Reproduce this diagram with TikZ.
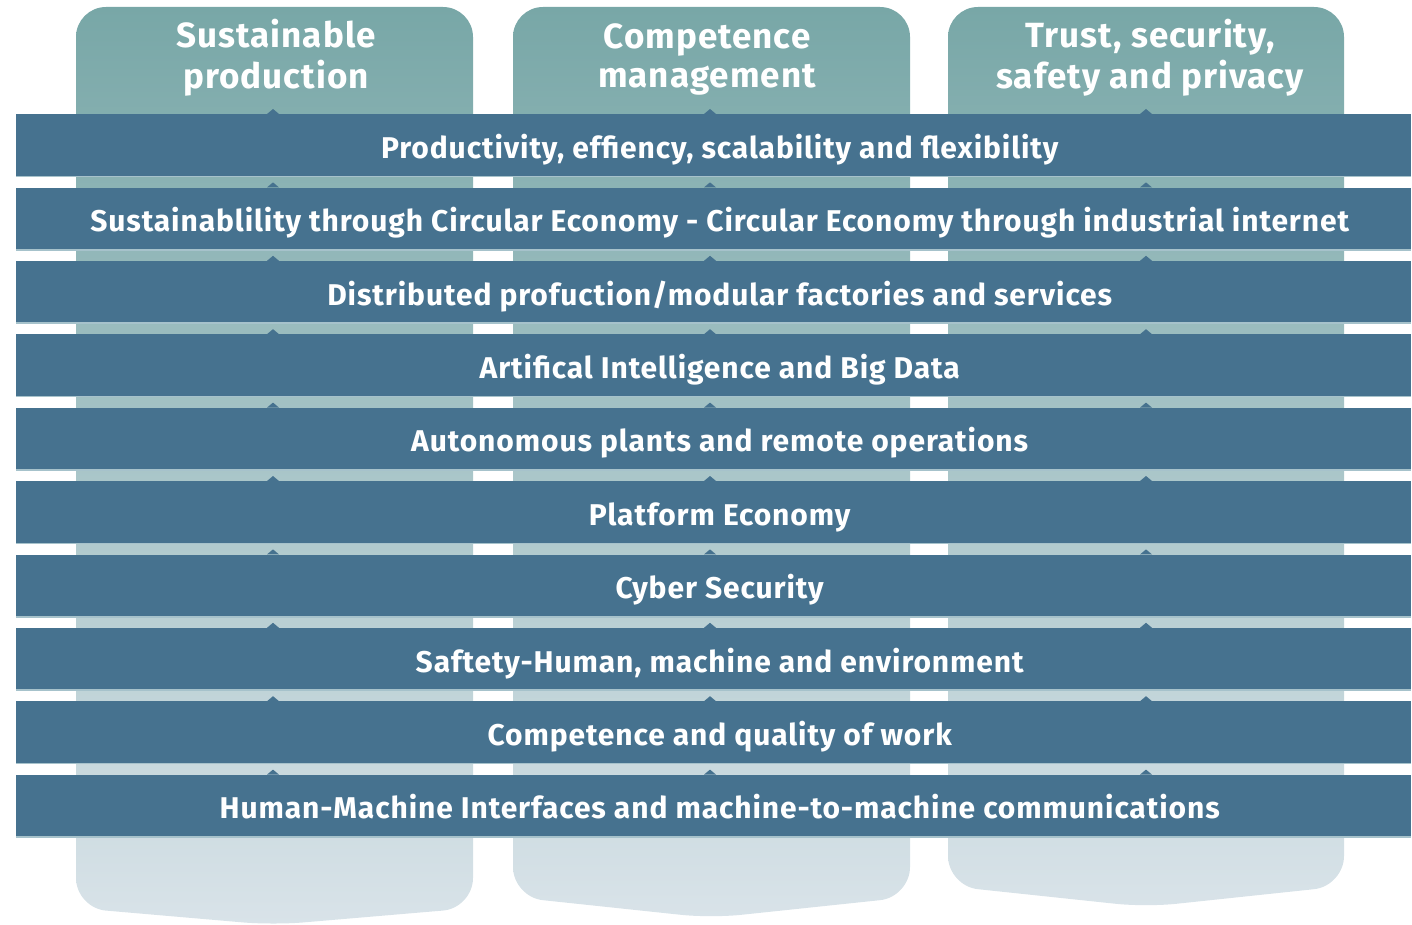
\documentclass[tikz,border=0pt]{standalone}
\usepackage{fontspec}
\setmainfont{Fira Sans}
\newfontfamily\barfont{Fira Sans}[LetterSpace=3]
\newfontfamily\headfont{Fira Sans}[LetterSpace=3]
\definecolor{barblue}{HTML}{46728F}
\definecolor{coltop}{HTML}{78A7A7}
\definecolor{colbot}{HTML}{D9E3E9}
\definecolor{barline}{HTML}{A6C2CB}
\begin{document}
\begin{tikzpicture}[x=1pt,y=-1pt,
  colshape/.style={top color=coltop,bottom color=colbot,draw=none,rounded corners=30pt},
  barbox/.style={fill=barblue,minimum width=1395pt,minimum height=62pt,inner sep=0pt,
    text=white,font=\barfont\bfseries\fontsize{30}{36}\selectfont,text height=26pt,text depth=0pt,anchor=north west},
  head/.style={text=white,font=\headfont\bfseries\fontsize{35}{39}\selectfont,align=center,inner sep=0pt},
  notch/.style={fill=barblue},
  barrule/.style={draw=barline,line width=1.5pt}]
\useasboundingbox (0,0) rectangle (1412,925);
% columns
\path[colshape] (273,7) -- (473,7) -- (473,908) -- (273,925) -- (76,908) -- (76,7) -- cycle;
\path[colshape] (711,7) -- (910,7) -- (910,897) -- (711,918) -- (513,897) -- (513,7) -- cycle;
\path[colshape] (1146,7) -- (1344,7) -- (1344,886) -- (1146,907) -- (948,886) -- (948,7) -- cycle;
\coordinate (c1) at (273,0);
\coordinate (c2) at (710,0);
\coordinate (c3) at (1146,0);
\node[head] (h1) at (276,60) {\strut Sustainable\\\strut production};
\node[head] (h2) at (707,60) {\strut Competence\\\strut management};
\node[head] (h3) at (1150,60) {\strut Trust, security,\\\strut safety and privacy};
% bars
\foreach \t [count=\i from 0] in {
  {Productivity, effiency, scalability and flexibility},
  {Sustainablility through Circular Economy - Circular Economy through industrial internet},
  {Distributed profuction/modular factories and services},
  {Artifical Intelligence and Big Data},
  {Autonomous plants and remote operations},
  {Platform Economy},
  {Cyber Security},
  {Saftety-Human, machine and environment},
  {Competence and quality of work},
  {Human-Machine Interfaces and machine-to-machine communications}}{
  \node[barbox] (bar\i) at (16,{114+73.4*\i}) {\hspace{12pt}\t};
  \draw[barrule] (bar\i.south west) -- (bar\i.south east);
  \foreach \c in {c1,c2,c3}{
    \fill[notch] (bar\i.north -| \c) ++(-6,0) -- ++(6,-5) -- ++(6,5) -- cycle;
  }
}
\end{tikzpicture}
\end{document}
